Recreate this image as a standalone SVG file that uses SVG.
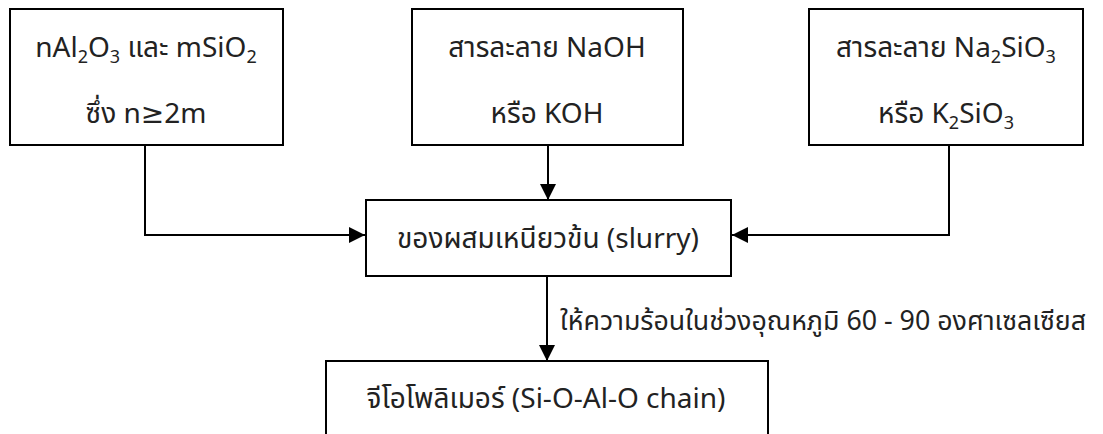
<svg xmlns="http://www.w3.org/2000/svg" width="1103" height="434" viewBox="0 0 1103 434">
<style>
.box{fill:#fff;stroke:#000;stroke-width:2}
.t{font-family:"Noto Sans Thai","Noto Sans","DejaVu Sans",sans-serif;font-size:28px;fill:#222;text-anchor:middle}
.l{font-family:"Noto Sans Thai","Noto Sans","DejaVu Sans",sans-serif;font-size:27px;fill:#222}
.c{fill:none;stroke:#000;stroke-width:2}
</style>
<defs>
<marker id="ah" markerWidth="16" markerHeight="16" refX="16" refY="8" orient="auto" markerUnits="userSpaceOnUse">
<path d="M0,0 L16,8 L0,16 Z" fill="#000"/>
</marker>
</defs>
<g id="connectors">
<polyline class="c" points="145,145 145,235 365,235" marker-end="url(#ah)"/>
<line class="c" x1="548" y1="145" x2="548" y2="200" marker-end="url(#ah)"/>
<polyline class="c" points="949,145 949,235 732,235" marker-end="url(#ah)"/>
<line class="c" x1="547" y1="276" x2="547" y2="361" marker-end="url(#ah)"/>
<text class="l" x="560" y="330" textLength="526" lengthAdjust="spacingAndGlyphs">ให้ความร้อนในช่วงอุณหภูมิ 60 - 90 องศาเซลเซียส</text>
</g>
<g id="n1">
<rect class="box" x="10" y="9" width="273" height="136"/>
<text class="t" x="146" y="57">nAl<tspan font-size="18" dy="6">2</tspan><tspan dy="-6">O</tspan><tspan font-size="18" dy="6">3</tspan><tspan dy="-6"> และ mSiO</tspan><tspan font-size="18" dy="6">2</tspan></text>
<text class="t" x="146" y="123">ซึ่ง n≥2m</text>
</g>
<g id="n2">
<rect class="box" x="412" y="9" width="271" height="136"/>
<text class="t" x="547" y="57">สารละลาย NaOH</text>
<text class="t" x="547" y="123">หรือ KOH</text>
</g>
<g id="n3">
<rect class="box" x="809" y="9" width="274" height="136"/>
<text class="t" x="946" y="57">สารละลาย Na<tspan font-size="18" dy="6">2</tspan><tspan dy="-6">SiO</tspan><tspan font-size="18" dy="6">3</tspan></text>
<text class="t" x="946" y="123">หรือ K<tspan font-size="18" dy="6">2</tspan><tspan dy="-6">SiO</tspan><tspan font-size="18" dy="6">3</tspan></text>
</g>
<g id="n4">
<rect class="box" x="366" y="200" width="365" height="76"/>
<text class="t" x="548" y="248">ของผสมเหนียวข้น (slurry)</text>
</g>
<g id="n5">
<rect class="box" x="326" y="361" width="442" height="90"/>
<text class="t" x="546" y="408">จีโอโพลิเมอร์ (Si-O-Al-O chain)</text>
</g>
</svg>
